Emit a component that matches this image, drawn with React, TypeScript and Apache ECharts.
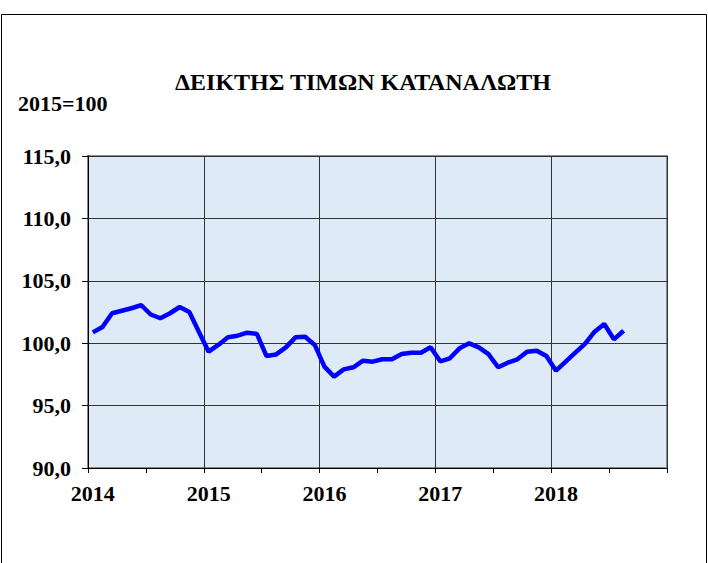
import React, { useEffect, useRef } from "react";
import * as echarts from "echarts";

const years = ["2014", "2015", "2016", "2017", "2018"];
const months = ["01", "02", "03", "04", "05", "06", "07", "08", "09", "10", "11", "12"];
const categories: string[] = years.flatMap((y) => months.map((m) => `${y}-${m}`));
const cpi = [
  100.87, 101.3, 102.4, 102.6, 102.8, 103.06, 102.3, 102.0, 102.4, 102.9, 102.5, 100.9,
  99.32, 99.86, 100.47, 100.6, 100.84, 100.74, 98.97, 99.1, 99.67, 100.47, 100.52, 99.86,
  98.12, 97.32, 97.9, 98.07, 98.6, 98.52, 98.71, 98.71, 99.13, 99.24, 99.24, 99.67,
  98.55, 98.79, 99.59, 99.99, 99.67, 99.13, 98.07, 98.44, 98.71, 99.32, 99.4, 98.97,
  97.8, 98.52, 99.24, 99.94, 100.92, 101.54, 100.31, 101.0,
];
const titleText = "ΔΕΙΚΤΗΣ ΤΙΜΩΝ ΚΑΤΑΝΑΛΩΤΗ";
const baseText = "2015=100";

const FONT = "serif";

export default function App() {
  const ref = useRef<HTMLDivElement>(null);
  useEffect(() => {
    document.body.style.margin = "0";
    const chart = echarts.init(ref.current!, null, { renderer: "svg" });
    chart.setOption({
      animation: false,
      backgroundColor: "#ffffff",
      title: {
        text: titleText,
        left: 358,
        textAlign: "center",
        top: 65,
        textStyle: { fontFamily: FONT, fontSize: 24, fontWeight: "bold", color: "#000" },
      },
      graphic: [
        {
          type: "rect",
          shape: { x: 1.5, y: 14.5, width: 705, height: 600 },
          style: { fill: "none", stroke: "#000", lineWidth: 1 },
          silent: true,
        },
        {
          type: "text",
          x: 18,
          y: 103,
          style: {
            text: baseText,
            fontFamily: FONT,
            fontSize: 22,
            fontWeight: "bold",
            fill: "#000",
            verticalAlign: "middle",
          },
        },
      ],
      grid: {
        left: 88,
        right: 41,
        top: 156,
        bottom: 95,
        show: true,
        backgroundColor: "#dfeaf7",
        borderColor: "#8a8a8a",
        borderWidth: 2,
      },
      xAxis: {
        type: "category",
        data: categories,
        boundaryGap: true,
        axisLine: { show: true, lineStyle: { color: "#000", width: 1 } },
        axisTick: { show: true, interval: 5, length: 5, lineStyle: { color: "#000" } },
        axisLabel: {
          interval: 11,
          formatter: (v: string) => v.slice(0, 4),
          fontFamily: FONT,
          fontSize: 22,
          fontWeight: "bold",
          color: "#000",
          margin: 14,
        },
        splitLine: { show: true, interval: 11, lineStyle: { color: "#333", width: 1 } },
      },
      yAxis: {
        type: "value",
        min: 90,
        max: 115,
        interval: 5,
        axisLine: { show: true, lineStyle: { color: "#000", width: 1 } },
        axisTick: { show: true, length: 6, lineStyle: { color: "#000" } },
        axisLabel: {
          formatter: (v: number) => v.toFixed(1).replace(".", ","),
          fontFamily: FONT,
          fontSize: 22,
          fontWeight: "bold",
          color: "#000",
          margin: 17,
        },
        splitLine: { show: true, lineStyle: { color: "#333", width: 1 } },
      },
      series: [
        {
          type: "line",
          data: cpi,
          symbol: "none",
          lineStyle: { color: "#0000ff", width: 4.5 },
          z: 5,
        },
      ],
    });
    return () => chart.dispose();
  }, []);
  return <div ref={ref} style={{ width: 708, height: 563 }} />;
}
